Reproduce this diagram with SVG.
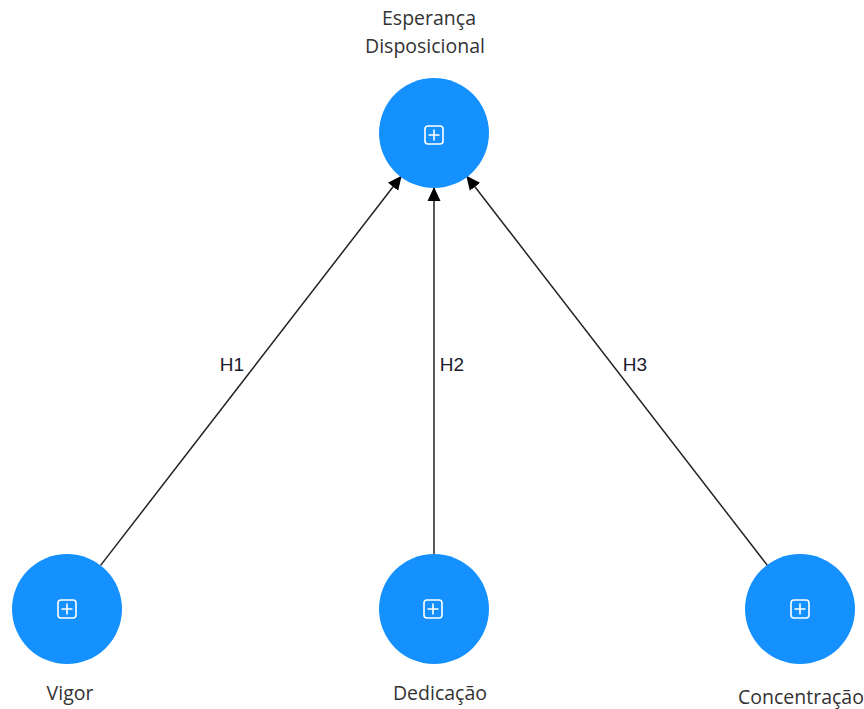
<svg xmlns="http://www.w3.org/2000/svg" width="864" height="709" viewBox="0 0 864 709">
<style>
.node{fill:#1591ff}
.icon{fill:none;stroke:#fff;stroke-width:1.6}
.lbl{font-family:"Open Sans","Noto Sans",sans-serif;font-size:19.5px;fill:#333;text-anchor:middle}
.hl{font-family:"Liberation Sans",Arial,sans-serif;font-size:19px;fill:#1a1a2e;text-anchor:middle}
.edge{stroke:#222;stroke-width:1.5;fill:none;marker-end:url(#arr)}
</style>
<defs>
<marker id="arr" markerWidth="14" markerHeight="14" refX="13" refY="7" orient="auto" markerUnits="userSpaceOnUse">
<path d="M0,0.5 L14,7 L0,13.5 z" fill="#000"/>
</marker>
<g id="ic"><rect x="-9" y="-9" width="18" height="18" rx="3" class="icon"/><path d="M-5.5,0H5.5M0,-5.5V5.5" class="icon"/></g>
</defs>
<rect width="864" height="709" fill="#fff"/>
<g id="connectors">
<line class="edge" x1="100.6" y1="565.4" x2="401" y2="176.5"/>
<line class="edge" x1="434" y1="554" x2="434" y2="188"/>
<line class="edge" x1="767.4" y1="565.4" x2="467" y2="176.5"/>
<text class="hl" x="232" y="371">H1</text>
<text class="hl" x="452" y="371">H2</text>
<text class="hl" x="635" y="371">H3</text>
</g>
<g id="esperanca">
<circle class="node" cx="434" cy="133" r="55"/>
<use href="#ic" x="434" y="135"/>
<text class="lbl" x="429" y="25">Esperança</text>
<text class="lbl" x="425" y="53">Disposicional</text>
</g>
<g id="vigor">
<circle class="node" cx="67" cy="609" r="55"/>
<use href="#ic" x="67" y="609"/>
<text class="lbl" x="70" y="700">Vigor</text>
</g>
<g id="dedicacao">
<circle class="node" cx="434" cy="609" r="55"/>
<use href="#ic" x="433" y="609"/>
<text class="lbl" x="440" y="700">Dedicação</text>
</g>
<g id="concentracao">
<circle class="node" cx="800" cy="609" r="55"/>
<use href="#ic" x="800" y="609"/>
<text class="lbl" x="801" y="704">Concentração</text>
</g>
</svg>
